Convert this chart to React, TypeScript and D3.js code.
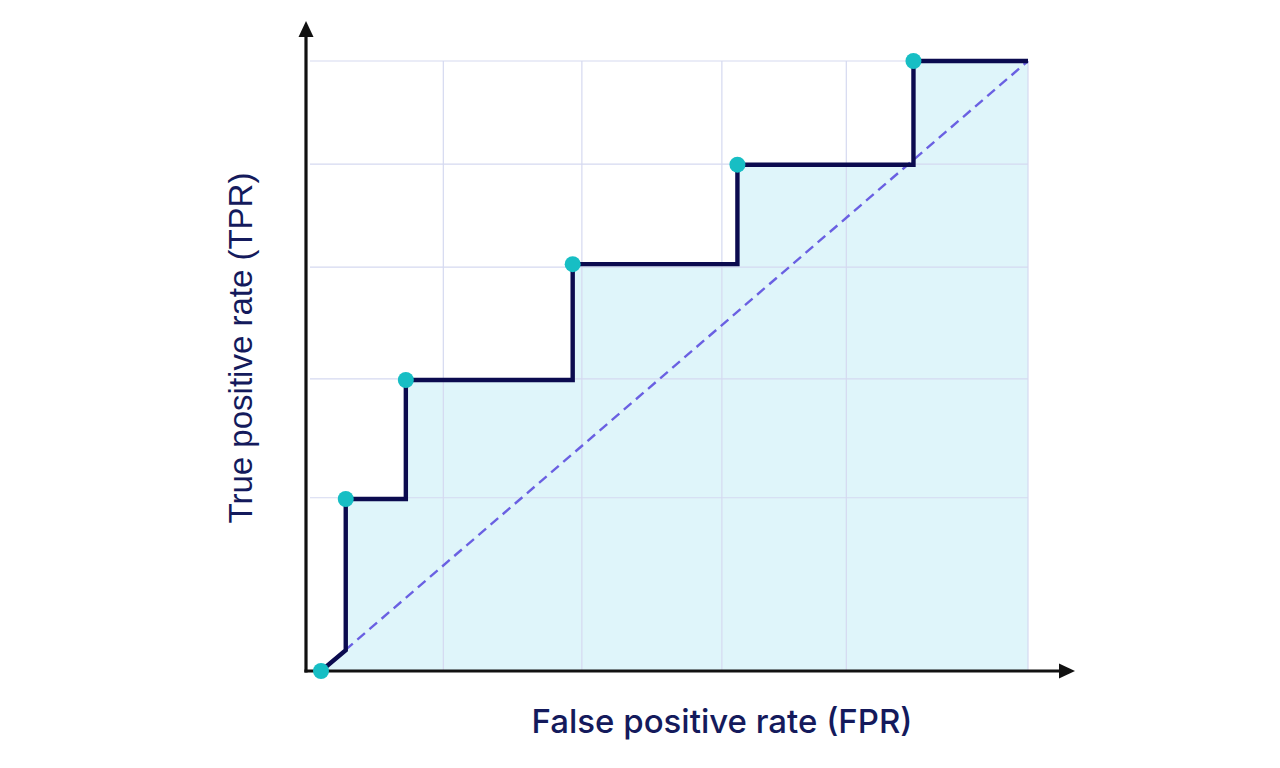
import React, { useEffect, useRef } from 'react';
import * as d3 from 'd3';

// ROC step curve (FPR, TPR)
const rocFpr = [0, 0.035, 0.035, 0.12, 0.12, 0.356, 0.356, 0.589, 0.589, 0.838, 0.838, 1];
const rocTpr = [0, 0.034, 0.282, 0.282, 0.477, 0.477, 0.667, 0.667, 0.83, 0.83, 1, 1];

// threshold markers
const dotFpr = [0, 0.035, 0.12, 0.356, 0.589, 0.838];
const dotTpr = [0, 0.282, 0.477, 0.667, 0.83, 1];

// grid positions
const fprGrid = [0.173, 0.369, 0.567, 0.743, 1];
const tprGrid = [0.284, 0.479, 0.662, 0.831, 1];

const xLabel = 'False positive rate (FPR)';
const yLabel = 'True positive rate (TPR)';

const App = () => {
    const svgRef = useRef(null);

    useEffect(() => {
        const svg = d3.select(svgRef.current);
        svg.selectAll('*').remove();

        const width = 1280;
        const height = 768;

        const x = d3.scaleLinear().domain([0, 1]).range([321, 1028]);
        const y = d3.scaleLinear().domain([0, 1]).range([671, 61]);

        const axisX = 306;
        const axisY = 671;

        svg.attr('width', width).attr('height', height);

        const roc = rocFpr.map((f, i) => ({ f, t: rocTpr[i] }));

        // Area under the curve
        const area = d3.area<{ f: number, t: number }>()
            .x(d => x(d.f))
            .y0(y(0))
            .y1(d => y(d.t));

        svg.append('path')
            .datum(roc)
            .attr('fill', '#dff5fa')
            .attr('d', area);

        // Grid
        const grid = svg.append('g').attr('stroke', '#d5d9f0').attr('stroke-width', 1.2);
        grid.selectAll('.h')
            .data(tprGrid)
            .join('line')
            .attr('x1', 310)
            .attr('x2', x(1))
            .attr('y1', d => y(d))
            .attr('y2', d => y(d));
        grid.selectAll('.v')
            .data(fprGrid)
            .join('line')
            .attr('x1', d => x(d))
            .attr('x2', d => x(d))
            .attr('y1', y(1))
            .attr('y2', axisY);

        // Random classifier diagonal
        svg.append('line')
            .attr('x1', x(0))
            .attr('y1', y(0))
            .attr('x2', x(1))
            .attr('y2', y(1))
            .attr('stroke', '#6a60e2')
            .attr('stroke-width', 2.4)
            .attr('stroke-dasharray', '10 6');

        // ROC line
        const line = d3.line<{ f: number, t: number }>()
            .x(d => x(d.f))
            .y(d => y(d.t));

        svg.append('path')
            .datum(roc)
            .attr('fill', 'none')
            .attr('stroke', '#0b0b4f')
            .attr('stroke-width', 4.4)
            .attr('stroke-linejoin', 'miter')
            .attr('d', line);

        // Axes with arrowheads
        svg.append('line')
            .attr('x1', axisX).attr('y1', axisY + 1.5)
            .attr('x2', axisX).attr('y2', 34)
            .attr('stroke', '#111').attr('stroke-width', 3.2);
        svg.append('path')
            .attr('d', `M${axisX - 7.5},37 L${axisX},21 L${axisX + 7.5},37 Z`)
            .attr('fill', '#111');

        svg.append('line')
            .attr('x1', axisX - 1.6).attr('y1', axisY)
            .attr('x2', 1062).attr('y2', axisY)
            .attr('stroke', '#111').attr('stroke-width', 3.2);
        svg.append('path')
            .attr('d', `M1059,${axisY - 7.5} L1075,${axisY} L1059,${axisY + 7.5} Z`)
            .attr('fill', '#111');

        // Dots
        svg.selectAll('.dot')
            .data(dotFpr)
            .join('circle')
            .attr('cx', d => x(d))
            .attr('cy', (d, i) => y(dotTpr[i]))
            .attr('r', 8)
            .attr('fill', '#17bec4');

        // Labels
        svg.append('text')
            .attr('x', 722)
            .attr('y', 733)
            .attr('text-anchor', 'middle')
            .attr('font-family', 'Inter, "Open Sans", sans-serif')
            .attr('font-size', 33)
            .attr('font-weight', 500)
            .attr('fill', '#141a5c')
            .text(xLabel);

        svg.append('text')
            .attr('transform', `translate(252,348) rotate(-90)`)
            .attr('text-anchor', 'middle')
            .attr('font-family', '"Liberation Sans", Arial, sans-serif')
            .attr('font-size', 33)
            .attr('fill', '#141a5c')
            .text(yLabel);
    }, []);

    return (
        <div style={{ position: 'absolute', left: 0, top: 0, width: 1280, height: 768, background: '#fff' }}>
            <svg ref={svgRef} style={{ display: 'block' }}></svg>
        </div>
    );
};

export default App;
